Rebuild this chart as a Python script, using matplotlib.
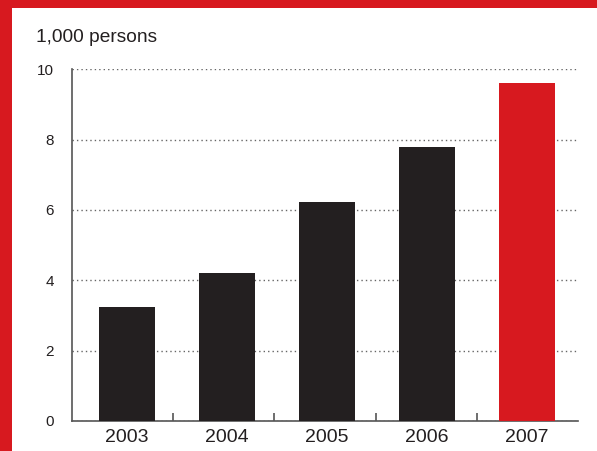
import matplotlib
matplotlib.use("Agg")
import matplotlib.pyplot as plt
from matplotlib.patches import Rectangle
import numpy as np

years = ["2003", "2004", "2005", "2006", "2007"]
values = [3.25, 4.2, 6.24, 7.8, 9.62]
colors = ["#231F20", "#231F20", "#231F20", "#231F20", "#D7191F"]
yticks = [0, 2, 4, 6, 8, 10]
unit_label = "1,000 persons"

plt.rcParams['font.family'] = ['Liberation Sans', 'DejaVu Sans']

fig = plt.figure(figsize=(5.97, 4.51), dpi=100)
fig.patches.append(Rectangle((0, 0), 12/597, 1, transform=fig.transFigure,
                             facecolor="#D7191F", edgecolor="none", zorder=0))
fig.patches.append(Rectangle((0, 1 - 7.5/451), 1, 7.5/451, transform=fig.transFigure,
                             facecolor="#D7191F", edgecolor="none", zorder=0))

ax = fig.add_axes([72/597, 30/451, (578-72)/597, (421-69.3)/451])
x = np.arange(len(years))
ax.bar(x, values, width=0.56, color=colors, zorder=3)

xmin, xmax = -0.55, 4.51
ax.set_xlim(xmin, xmax)
ax.set_ylim(0, 10)

ax.set_xticks(x)
ax.set_xticklabels(years, fontsize=14, color="#231F20")
ax.tick_params(axis='x', which='major', length=0, pad=6)
step = (xmax - xmin) / len(years)
ax.set_xticks([xmin + step*(i+1) for i in range(len(years)-1)], minor=True)
ax.tick_params(axis='x', which='minor', direction='in', length=6, width=1.2, color="#555555")

ax.set_yticks(yticks)
ax.set_yticklabels([str(v) for v in yticks], fontsize=11, color="#231F20")
ax.tick_params(axis='y', length=0, pad=13)

ax.yaxis.grid(True, linestyle=(0, (1, 2.2)), color="#666666", linewidth=1)
ax.set_axisbelow(True)

for s in ["top", "right"]:
    ax.spines[s].set_visible(False)
for s in ["left", "bottom"]:
    ax.spines[s].set_color("#555555")
    ax.spines[s].set_linewidth(1.2)

fig.text(36/597, 1 - 37/451, unit_label, fontsize=13.8, color="#231F20", va="center", ha="left")

fig.savefig("out.png", dpi=100)
